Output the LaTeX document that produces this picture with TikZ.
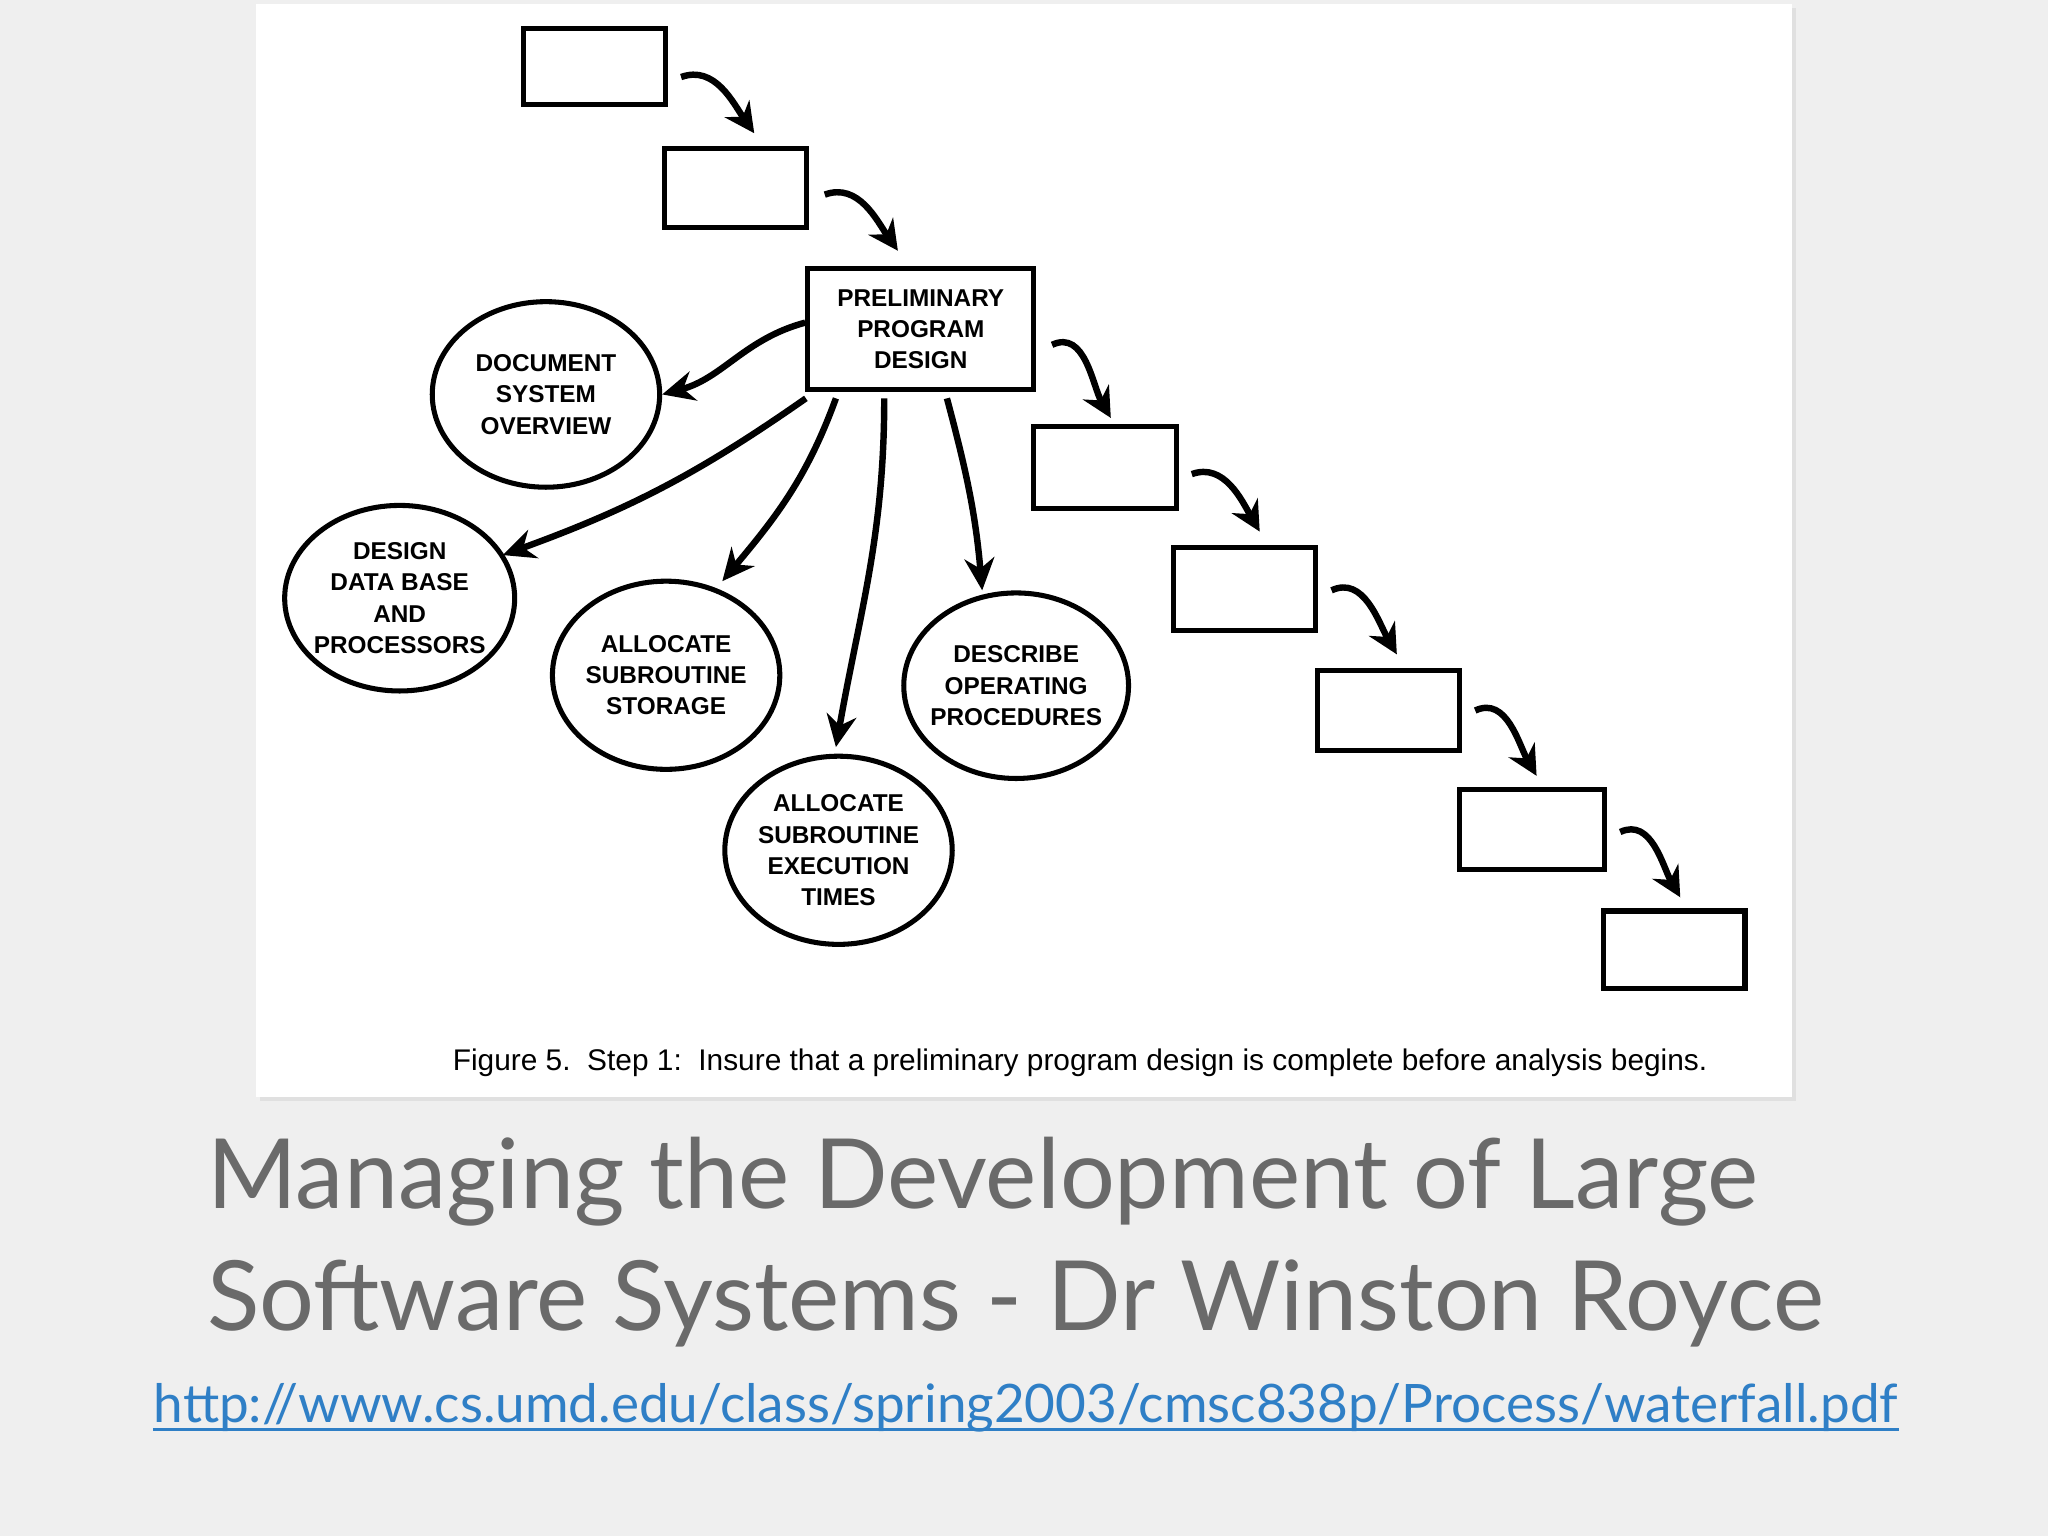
\documentclass[tikz,border=0pt]{standalone}
\usepackage{fontspec}
\setmainfont{Lato}
\newfontfamily\figfont{Liberation Sans}
\usetikzlibrary{arrows.meta,shapes.geometric}
\definecolor{bg}{HTML}{EFEFEF}
\definecolor{ttl}{HTML}{6A6A6A}
\definecolor{lnk}{HTML}{2F7FC6}
\begin{document}
\begin{tikzpicture}[x=0.01cm,y=-0.01cm,
  bub/.style={draw,line width=1.1pt,ellipse,font=\figfont\bfseries\fontsize{5.3}{6.8}\selectfont,align=center,inner sep=-3pt},
  flow/.style={line width=1.4pt,-{Stealth[length=6.5pt,width=6.5pt]}},
  fan/.style={line width=1.4pt,-{Stealth[length=7pt,width=6.5pt]}}]
\useasboundingbox (0,0) rectangle (1568,1176);
\fill[bg] (0,0) rectangle (1568,1176);
\fill[black!12] (199,6) rectangle (1375,843);
\fill[white] (196,3) rectangle (1372,840);
% stages
\node[draw,line width=1.1pt,minimum width=1.09cm,minimum height=0.58cm] (s1) at (455,51) {};
\node[draw,line width=1.1pt,minimum width=1.09cm,minimum height=0.61cm] (s2) at (563,144) {};
\node[draw,line width=1.1pt,minimum width=1.73cm,minimum height=0.93cm,font=\figfont\bfseries\fontsize{5.3}{6.8}\selectfont,align=center] (p) at (705,252) {PRELIMINARY\\PROGRAM\\DESIGN};
\node[draw,line width=1.1pt,minimum width=1.09cm,minimum height=0.63cm] (s4) at (846,358) {};
\node[draw,line width=1.1pt,minimum width=1.09cm,minimum height=0.63cm] (s5) at (953,451) {};
\node[draw,line width=1.1pt,minimum width=1.09cm,minimum height=0.61cm] (s6) at (1063,544) {};
\node[draw,line width=1.1pt,minimum width=1.11cm,minimum height=0.61cm] (s7) at (1173,635) {};
\node[draw,line width=1.1pt,minimum width=1.08cm,minimum height=0.59cm] (s8) at (1282,727) {};
\draw[flow] (s1.east)++(10,8) to[out=20,in=125] ++(56,43);
\draw[flow] (s2.east)++(12,5) to[out=20,in=125] ++(56,43);
\draw[flow] (p.east)++(12,12) to[out=25,in=120] ++(45,56);
\draw[flow] (s4.east)++(10,5) to[out=20,in=120] ++(52,44);
\draw[flow] (s5.east)++(10,1) to[out=25,in=120] ++(50,49);
\draw[flow] (s6.east)++(10,0) to[out=25,in=120] ++(47,50);
\draw[flow] (s7.east)++(10,2) to[out=25,in=120] ++(46,50);
% bubbles
\node[bub,minimum width=1.74cm,minimum height=1.42cm] (d1) at (418,302) {DOCUMENT\\SYSTEM\\OVERVIEW};
\node[bub,minimum width=1.76cm,minimum height=1.42cm] (d2) at (306,458) {DESIGN\\DATA BASE\\AND\\PROCESSORS};
\node[bub,minimum width=1.74cm,minimum height=1.44cm] (d3) at (510,517) {ALLOCATE\\SUBROUTINE\\STORAGE};
\node[bub,minimum width=1.74cm,minimum height=1.44cm] (d4) at (642,651) {ALLOCATE\\SUBROUTINE\\EXECUTION\\TIMES};
\node[bub,minimum width=1.72cm,minimum height=1.42cm] (d5) at (778,525) {DESCRIBE\\OPERATING\\PROCEDURES};
\draw[fan] (p.west)++(0,-5) to[out=195,in=15] (d1.east);
\draw[fan] (617,305) to[out=215,in=20] (385,425);
\draw[fan] (640,305) to[out=250,in=50] (553,445);
\draw[fan] (677,305) to[out=270,in=80] (640,572);
\draw[fan] (725,305) to[out=285,in=95] (752,452);
\node[font=\figfont\fontsize{6.5}{7}\selectfont,anchor=west,inner sep=0pt] (cap) at (346,814) {Figure 5.\ \ Step 1:\ \ Insure that a preliminary program design is complete before analysis begins.};
\node[anchor=west,text=ttl,font=\fontsize{21.1}{26.5}\selectfont,align=left,inner sep=0pt] (t) at (158,951) {Managing the Development of Large\\Software Systems - Dr Winston Royce};
\node[anchor=west,text=lnk,font=\fontsize{11.55}{13}\selectfont,inner sep=0pt] (u) at (117,1078) {http://www.cs.umd.edu/class/spring2003/cmsc838p/Process/waterfall.pdf};
\draw[lnk,line width=0.6pt] ([yshift=-1.5pt]u.base west) -- ([yshift=-1.5pt]u.base east);
\end{tikzpicture}
\end{document}
